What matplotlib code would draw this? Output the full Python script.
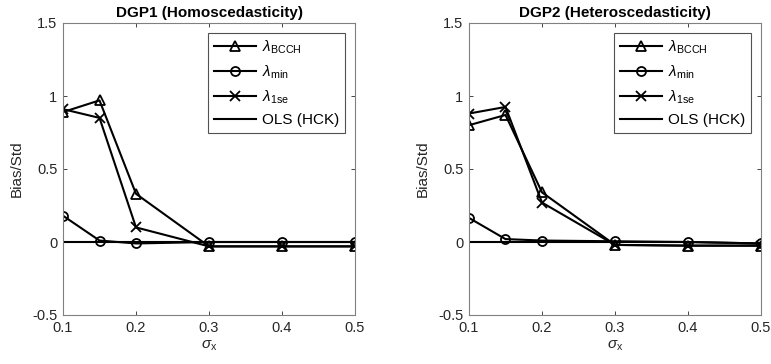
import numpy as np
import matplotlib.pyplot as plt

plt.rcParams['font.family'] = ['Liberation Sans', 'DejaVu Sans']
plt.rcParams['mathtext.fontset'] = 'custom'
plt.rcParams['mathtext.rm'] = 'Liberation Sans'
plt.rcParams['mathtext.it'] = 'Liberation Sans:italic'

sigma_x = [0.1, 0.15, 0.2, 0.3, 0.4, 0.5]

# DGP1 (homoscedastic)
dgp1_bcch = [0.89, 0.97, 0.33, -0.03, -0.03, -0.03]
dgp1_min = [0.18, 0.01, -0.01, 0.00, 0.00, 0.00]
dgp1_1se = [0.91, 0.85, 0.10, -0.03, -0.03, -0.03]
dgp1_ols = [0.0, 0.0, 0.0, 0.0, 0.0, 0.0]

# DGP2 (heteroscedastic)
dgp2_bcch = [0.80, 0.87, 0.34, -0.02, -0.025, -0.025]
dgp2_min = [0.165, 0.02, 0.01, 0.005, 0.0, -0.01]
dgp2_1se = [0.88, 0.925, 0.27, -0.02, -0.025, -0.025]
dgp2_ols = [0.0, 0.0, 0.0, 0.0, 0.0, -0.01]

titles = ['DGP1 (Homoscedasticity)', 'DGP2 (Heteroscedasticity)']
labels = [r'$\lambda_{\mathrm{BCCH}}$', r'$\lambda_{\mathrm{min}}$',
          r'$\lambda_{\mathrm{1se}}$', 'OLS (HCK)']

fig = plt.figure(figsize=(7.71, 3.64), dpi=100)
ax1 = fig.add_axes([63 / 771, 1 - 315 / 364, 292 / 771, 292 / 364])
ax2 = fig.add_axes([469 / 771, 1 - 315 / 364, 292 / 771, 292 / 364])

panels = [(ax1, dgp1_bcch, dgp1_min, dgp1_1se, dgp1_ols),
          (ax2, dgp2_bcch, dgp2_min, dgp2_1se, dgp2_ols)]

for (ax, bcch, mn, se, ols), title in zip(panels, titles):
    kw = dict(color='black', lw=1.5, markersize=6.5, mfc='none', mew=1.3)
    ax.plot(sigma_x, bcch, marker='^', label=labels[0], **kw)
    ax.plot(sigma_x, mn, marker='o', label=labels[1], **kw)
    ax.plot(sigma_x, se, marker='x', label=labels[2], **kw)
    ax.plot(sigma_x, ols, color='black', lw=1.5, label=labels[3])

    ax.set_xlim(0.1, 0.5)
    ax.set_ylim(-0.5, 1.5)
    ax.set_xticks([0.1, 0.2, 0.3, 0.4, 0.5])
    ax.set_xticklabels(['0.1', '0.2', '0.3', '0.4', '0.5'])
    ax.set_yticks([-0.5, 0, 0.5, 1, 1.5])
    ax.set_yticklabels(['-0.5', '0', '0.5', '1', '1.5'])
    ax.tick_params(direction='in', top=True, right=True, length=3,
                   width=0.6, color='#262626', labelsize=10.5,
                   labelcolor='#262626', pad=4)
    for s in ax.spines.values():
        s.set_color('#808080')
        s.set_linewidth(0.8)
    ax.set_title(title, fontsize=11, fontweight='bold', pad=4)
    ax.set_ylabel('Bias/Std', fontsize=11, color='#262626', labelpad=6)
    ax.set_xlabel(r'$\sigma_{\mathrm{x}}$', fontsize=11, color='#262626', labelpad=3)
    leg = ax.legend(loc='upper right', fontsize=11, frameon=True, fancybox=False,
                    edgecolor='#262626', borderpad=0.35, handlelength=2.8,
                    handletextpad=0.4, labelspacing=0.5, borderaxespad=0.65)
    leg.get_frame().set_linewidth(0.8)

fig.savefig('out.png', dpi=100)
